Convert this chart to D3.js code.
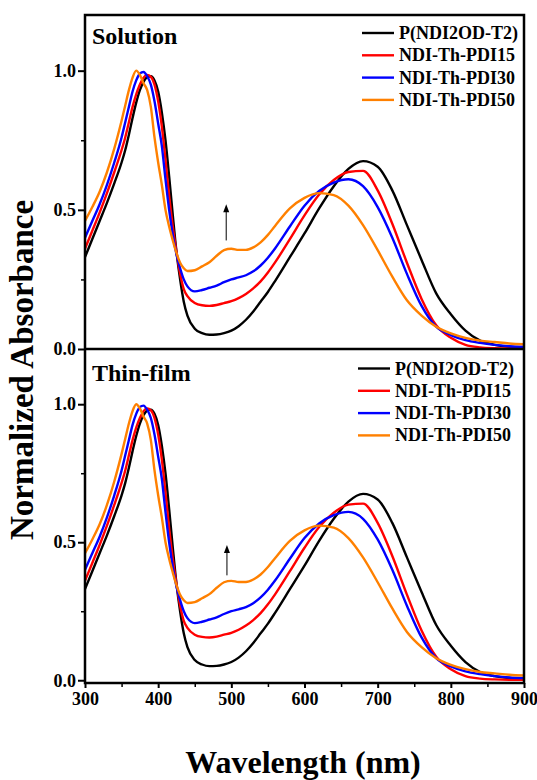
<!DOCTYPE html>
<html>
<head>
<meta charset="utf-8">
<script src="https://cdn.jsdelivr.net/npm/d3@7"></script>
<style>
  html, body { margin: 0; padding: 0; background: #fff; }
  svg { display: block; font-family: "Liberation Serif", "Times New Roman", serif; font-weight: bold; }
</style>
</head>
<body>
<div class="container"></div>
<script>
// 波长 (nm)
const wavelength = [300, 310, 320, 330, 340, 350, 355, 360, 365, 370, 375, 380, 385, 390, 395, 400, 405, 410, 415, 420, 425, 430, 435, 440,
  450, 460, 470, 480, 490, 500, 510, 520, 530, 540, 550, 560,
  580, 600, 620, 640, 660, 680, 700, 720, 740, 760, 780, 800, 820, 840, 860, 880, 900];

// 归一化吸收 (两个面板读数基本相同)
const pndi = [0.33, 0.395, 0.46, 0.525, 0.595, 0.67, 0.715, 0.77, 0.83, 0.885, 0.93, 0.96, 0.977, 0.98, 0.965, 0.925, 0.85, 0.75, 0.62, 0.48, 0.35, 0.25, 0.17, 0.12,
  0.073, 0.057, 0.051, 0.052, 0.057, 0.066, 0.082, 0.105, 0.135, 0.17, 0.205, 0.245,
  0.33, 0.415, 0.505, 0.585, 0.647, 0.675, 0.655, 0.57, 0.445, 0.32, 0.20, 0.125, 0.066, 0.03, 0.015, 0.008, 0.005];
const pdi15 = [0.36, 0.425, 0.49, 0.56, 0.635, 0.715, 0.76, 0.815, 0.87, 0.915, 0.95, 0.975, 0.985, 0.978, 0.95, 0.89, 0.80, 0.68, 0.55, 0.44, 0.35, 0.27, 0.215, 0.19,
  0.165, 0.157, 0.155, 0.158, 0.165, 0.172, 0.183, 0.198, 0.218, 0.243, 0.275, 0.312,
  0.395, 0.48, 0.555, 0.607, 0.636, 0.64, 0.57, 0.45, 0.31, 0.18, 0.085, 0.04, 0.015, 0.006, 0.003, 0.002, 0.002];
const pdi30 = [0.40, 0.46, 0.52, 0.59, 0.67, 0.76, 0.815, 0.87, 0.925, 0.965, 0.99, 0.995, 0.98, 0.95, 0.89, 0.81, 0.73, 0.61, 0.50, 0.41, 0.34, 0.29, 0.25, 0.225,
  0.207, 0.212, 0.22, 0.228, 0.24, 0.25, 0.257, 0.265, 0.279, 0.30, 0.328, 0.362,
  0.44, 0.515, 0.568, 0.598, 0.61, 0.585, 0.51, 0.40, 0.27, 0.155, 0.08, 0.05, 0.032, 0.022, 0.015, 0.01, 0.008];
const pdi50 = [0.46, 0.51, 0.565, 0.635, 0.72, 0.82, 0.875, 0.93, 0.975, 1.0, 0.985, 0.955, 0.93, 0.87, 0.76, 0.67, 0.59, 0.50, 0.44, 0.39, 0.345, 0.31, 0.29, 0.28,
  0.283, 0.297, 0.312, 0.335, 0.355, 0.36, 0.356, 0.356, 0.365, 0.383, 0.41, 0.443,
  0.505, 0.543, 0.56, 0.553, 0.515, 0.445, 0.355, 0.26, 0.175, 0.12, 0.08, 0.056, 0.04, 0.03, 0.025, 0.02, 0.017];

const seriesNames = ["P(NDI2OD-T2)", "NDI-Th-PDI15", "NDI-Th-PDI30", "NDI-Th-PDI50"];
const seriesColors = ["#000000", "#ff0000", "#0000ff", "#ff8000"];
const panelLabels = ["Solution", "Thin-film"];
const xTicks = [300, 400, 500, 600, 700, 800, 900];
const xMinor = [350, 450, 550, 650, 750, 850];
const yTicks = [0.0, 0.5, 1.0];
const yMinor = [0.25, 0.75];

const width = 537, height = 780;
const left = 85, right = 524;

const svg = d3.select(".container").append("svg")
  .attr("width", width)
  .attr("height", height);

const x = d3.scaleLinear().domain([300, 900]).range([left, right]);

// 两个面板
const panels = [
  { label: panelLabels[0], y: d3.scaleLinear().domain([0, 1.2]).range([349, 15]), legendX: 362, legendY: 33, arrow: [493, 0.39, 0.52] },
  { label: panelLabels[1], y: d3.scaleLinear().domain([-0.01, 1.2]).range([683, 349]), legendX: 358, legendY: 368.5, arrow: [494, 0.38, 0.49] }
];

const allSeries = [pndi, pdi15, pdi30, pdi50];

panels.forEach((p, pi) => {
  const g = svg.append("g");
  const y = p.y;

  const line = d3.line()
    .x((d, i) => x(wavelength[i]))
    .y(d => y(d))
    .curve(d3.curveMonotoneX);

  allSeries.forEach((s, si) => {
    g.append("path")
      .datum(s)
      .attr("d", line)
      .attr("fill", "none")
      .attr("stroke", seriesColors[si])
      .attr("stroke-width", 2.4);
  });

  // 左轴
  g.append("g")
    .attr("transform", `translate(${left},0)`)
    .call(d3.axisLeft(y).tickValues(yTicks).tickSize(7).tickPadding(2).tickFormat(d3.format(".1f")))
    .call(a => a.select(".domain").remove())
    .call(a => a.selectAll(".tick line").attr("stroke-width", 2))
    .call(a => a.selectAll(".tick text")
      .style("font-size", "18px")
      .style("font-family", "Liberation Serif")
      .style("font-weight", "bold")
      .attr("fill", "#000"));

  g.append("g")
    .attr("transform", `translate(${left},0)`)
    .call(d3.axisLeft(y).tickValues(yMinor).tickSize(4).tickFormat(""))
    .call(a => a.select(".domain").remove())
    .call(a => a.selectAll(".tick line").attr("stroke-width", 1.5));

  // 面板标题
  g.append("text")
    .attr("x", left + 7)
    .attr("y", y.range()[1] + (pi === 0 ? 29 : 32))
    .style("font-size", "24px")
    .text(p.label);

  // 图例
  seriesNames.forEach((name, si) => {
    const ly = p.legendY + si * 22.3;
    g.append("line")
      .attr("x1", p.legendX).attr("x2", p.legendX + 32)
      .attr("y1", ly).attr("y2", ly)
      .attr("stroke", seriesColors[si])
      .attr("stroke-width", 2.4);
    g.append("text")
      .attr("x", p.legendX + 37)
      .attr("y", ly + 6)
      .style("font-size", "18px")
      .text(name);
  });

  // 箭头
  const [ax, a0, a1] = p.arrow;
  g.append("line")
    .attr("x1", x(ax)).attr("x2", x(ax))
    .attr("y1", y(a0)).attr("y2", y(a1) + 5)
    .attr("stroke", "#000")
    .attr("stroke-width", 1);
  g.append("path")
    .attr("d", `M${x(ax)},${y(a1)} l-3,8 l6,0 z`)
    .attr("fill", "#000");
});

// 外框
svg.append("rect")
  .attr("x", left).attr("y", 15)
  .attr("width", right - left).attr("height", 683 - 15)
  .attr("fill", "none")
  .attr("stroke", "#000")
  .attr("stroke-width", 2.5);
svg.append("line")
  .attr("x1", left).attr("x2", right)
  .attr("y1", 349).attr("y2", 349)
  .attr("stroke", "#000")
  .attr("stroke-width", 2.5);

// X 轴
svg.append("g")
  .attr("transform", "translate(0,683)")
  .call(d3.axisBottom(x).tickValues(xTicks).tickSize(5).tickPadding(4))
  .call(a => a.select(".domain").remove())
  .call(a => a.selectAll(".tick line").attr("stroke-width", 2))
  .call(a => a.selectAll(".tick text")
    .style("font-size", "18px")
    .style("font-family", "Liberation Serif")
    .style("font-weight", "bold")
    .attr("fill", "#000"));
svg.append("g")
  .attr("transform", "translate(0,683)")
  .call(d3.axisBottom(x).tickValues(xMinor).tickSize(4).tickFormat(""))
  .call(a => a.select(".domain").remove())
  .call(a => a.selectAll(".tick line").attr("stroke-width", 1.5));

// 轴标题
svg.append("text")
  .attr("transform", "translate(33,370) rotate(-90)")
  .attr("text-anchor", "middle")
  .style("font-size", "33px")
  .text("Normalized Absorbance");

svg.append("text")
  .attr("x", 303)
  .attr("y", 773)
  .attr("text-anchor", "middle")
  .style("font-size", "32px")
  .text("Wavelength (nm)");
</script>
</body>
</html>
